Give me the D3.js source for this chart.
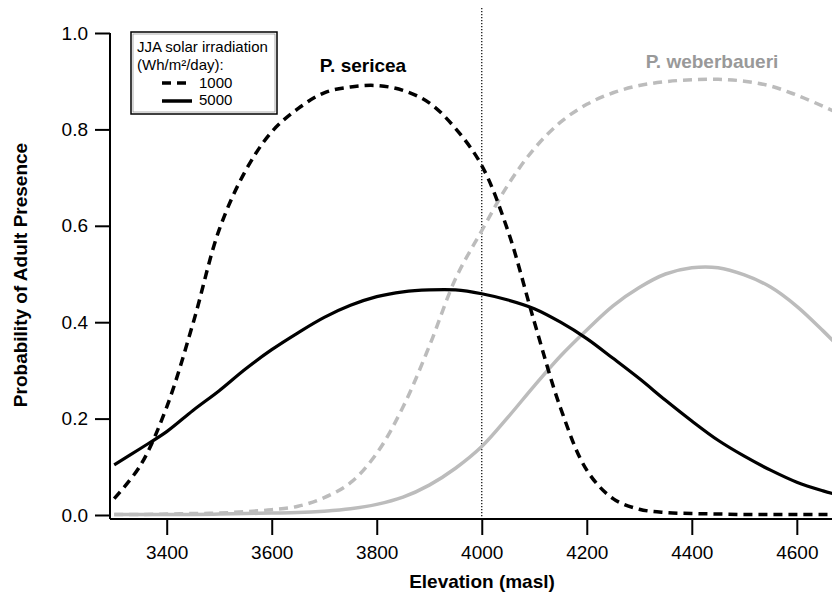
<!DOCTYPE html>
<html lang="en">
<head>
  <meta charset="UTF-8">
  <title>Probability of Adult Presence vs Elevation</title>
  <script src="https://d3js.org/d3.v7.min.js"></script>
  <style>
    body { margin: 0; background: #fff; }
    svg { font-family: "Liberation Sans", Arial, sans-serif; }
    .tick text { font-size: 19px; fill: #000; }
  </style>
</head>
<body>
  <svg width="832" height="595"></svg>

  <script>
    // Elevation (masl) at which the curves were read
    const elevation = [3300, 3350, 3400, 3450, 3500, 3550, 3600, 3650, 3700, 3750,
                       3800, 3850, 3900, 3950, 4000, 4050, 4100, 4150, 4200, 4250,
                       4300, 4350, 4400, 4450, 4500, 4550, 4600, 4650, 4670];

    // P. sericea, 1000 Wh/m2/day (black dashed)
    const sericea1000 = [0.034, 0.103, 0.224, 0.397, 0.592, 0.714, 0.795, 0.843, 0.876, 0.888,
                         0.891, 0.881, 0.855, 0.802, 0.725, 0.589, 0.401, 0.222, 0.093, 0.034,
                         0.012, 0.005, 0.003, 0.002, 0.001, 0.001, 0.001, 0.001, 0.001];
    // P. sericea, 5000 Wh/m2/day (black solid)
    const sericea5000 = [0.104, 0.138, 0.173, 0.217, 0.258, 0.303, 0.343, 0.378, 0.410, 0.435,
                         0.453, 0.463, 0.467, 0.467, 0.459, 0.446, 0.428, 0.400, 0.366, 0.325,
                         0.283, 0.238, 0.195, 0.155, 0.122, 0.093, 0.068, 0.050, 0.044];
    // P. weberbaueri, 1000 Wh/m2/day (grey dashed)
    const weber1000 = [0.001, 0.001, 0.002, 0.003, 0.004, 0.007, 0.011, 0.018, 0.036, 0.067,
                       0.128, 0.224, 0.350, 0.490, 0.590, 0.685, 0.760, 0.815, 0.852, 0.876,
                       0.891, 0.899, 0.903, 0.904, 0.900, 0.890, 0.871, 0.848, 0.838];
    // P. weberbaueri, 5000 Wh/m2/day (grey solid)
    const weber5000 = [0.001, 0.001, 0.001, 0.001, 0.002, 0.003, 0.004, 0.005, 0.008, 0.013,
                       0.022, 0.037, 0.062, 0.097, 0.142, 0.203, 0.268, 0.330, 0.384, 0.434,
                       0.472, 0.500, 0.513, 0.513, 0.498, 0.473, 0.433, 0.382, 0.360];

    const xTicks = [3400, 3600, 3800, 4000, 4200, 4400, 4600];
    const yTicks = [0.0, 0.2, 0.4, 0.6, 0.8, 1.0];
    const legendLabels = ["1000", "5000"];

    const svg = d3.select("svg");
    const plotLeft = 110, plotRight = 832, plotTop = 33, plotBottom = 519;

    const x = d3.scaleLinear().domain([3292, 4667]).range([plotLeft, plotRight]);
    const y = d3.scaleLinear().domain([-0.0083, 1.0]).range([plotBottom, plotTop]);

    svg.append("clipPath").attr("id", "plot")
       .append("rect")
       .attr("x", plotLeft).attr("y", 0)
       .attr("width", plotRight - plotLeft).attr("height", plotBottom);

    // vertical reference at 4000 m
    svg.append("line")
       .attr("x1", x(4000)).attr("x2", x(4000))
       .attr("y1", 8).attr("y2", plotBottom)
       .attr("stroke", "#000")
       .attr("stroke-width", 1.2)
       .attr("stroke-dasharray", "1.2,1.8");

    const series = [
      { values: weber1000,   color: "#bcbcbc", dash: "9,6", width: 3.5 },
      { values: weber5000,   color: "#bcbcbc", dash: null,  width: 3.5 },
      { values: sericea5000, color: "#000",    dash: null,  width: 3.2 },
      { values: sericea1000, color: "#000",    dash: "9,6", width: 3.5 }
    ];

    const line = d3.line()
      .x(d => x(d[0]))
      .y(d => y(d[1]))
      .curve(d3.curveCatmullRom.alpha(0.5));

    const curves = svg.append("g").attr("clip-path", "url(#plot)");
    series.forEach(s => {
      curves.append("path")
        .datum(elevation.map((e, i) => [e, s.values[i]]))
        .attr("fill", "none")
        .attr("stroke", s.color)
        .attr("stroke-width", s.width)
        .attr("stroke-dasharray", s.dash)
        .attr("d", line);
    });

    // axes
    const xAxis = svg.append("g")
      .attr("transform", `translate(0,${plotBottom})`)
      .call(d3.axisBottom(x).tickValues(xTicks).tickSize(16).tickPadding(11).tickFormat(d3.format("d")));
    const yAxis = svg.append("g")
      .attr("transform", `translate(${plotLeft},0)`)
      .call(d3.axisLeft(y).tickValues(yTicks).tickSize(15).tickPadding(7).tickFormat(d3.format(".1f")));

    xAxis.select(".domain").attr("stroke-width", 2).attr("d", `M${plotLeft},0H${plotRight}`);
    yAxis.select(".domain").attr("stroke-width", 2).attr("d", `M0,${plotTop}V${plotBottom}`);
    [xAxis, yAxis].forEach(a => {
      a.selectAll(".tick line").attr("stroke-width", 2);
      a.attr("font-family", null).attr("font-size", null);
    });

    svg.append("text")
       .attr("x", 482).attr("y", 588)
       .attr("text-anchor", "middle")
       .attr("font-size", 19).attr("font-weight", "bold")
       .text("Elevation (masl)");

    svg.append("text")
       .attr("transform", "translate(27,275) rotate(-90)")
       .attr("text-anchor", "middle")
       .attr("font-size", 19).attr("font-weight", "bold")
       .text("Probability of Adult Presence");

    // species labels
    svg.append("text")
       .attr("x", 363).attr("y", 72)
       .attr("text-anchor", "middle")
       .attr("font-size", 19).attr("font-weight", "bold")
       .text("P. sericea");
    svg.append("text")
       .attr("x", 712).attr("y", 68)
       .attr("text-anchor", "middle")
       .attr("font-size", 19).attr("font-weight", "bold")
       .attr("fill", "#999")
       .text("P. weberbaueri");

    // legend
    const lg = svg.append("g");
    lg.append("rect")
      .attr("x", 131).attr("y", 32).attr("width", 146).attr("height", 82)
      .attr("fill", "#fff").attr("stroke", "#000").attr("stroke-width", 1.5);
    lg.append("rect")
      .attr("x", 133).attr("y", 34).attr("width", 142).attr("height", 78)
      .attr("fill", "none").attr("stroke", "#777").attr("stroke-width", 0.6);
    lg.append("text").attr("x", 137).attr("y", 52).attr("font-size", 15)
      .text("JJA solar irradiation");
    lg.append("text").attr("x", 137).attr("y", 70).attr("font-size", 15)
      .text("(Wh/m²/day):");
    legendLabels.forEach((lab, i) => {
      const yy = 83 + i * 18;
      lg.append("line")
        .attr("x1", 162).attr("x2", i === 0 ? 186 : 192)
        .attr("y1", yy).attr("y2", yy)
        .attr("stroke", "#000").attr("stroke-width", 3.5)
        .attr("stroke-dasharray", i === 0 ? "9,6" : null);
      lg.append("text").attr("x", 199).attr("y", yy + 5 - i).attr("font-size", 15)
        .text(lab);
    });
  </script>
</body>
</html>
